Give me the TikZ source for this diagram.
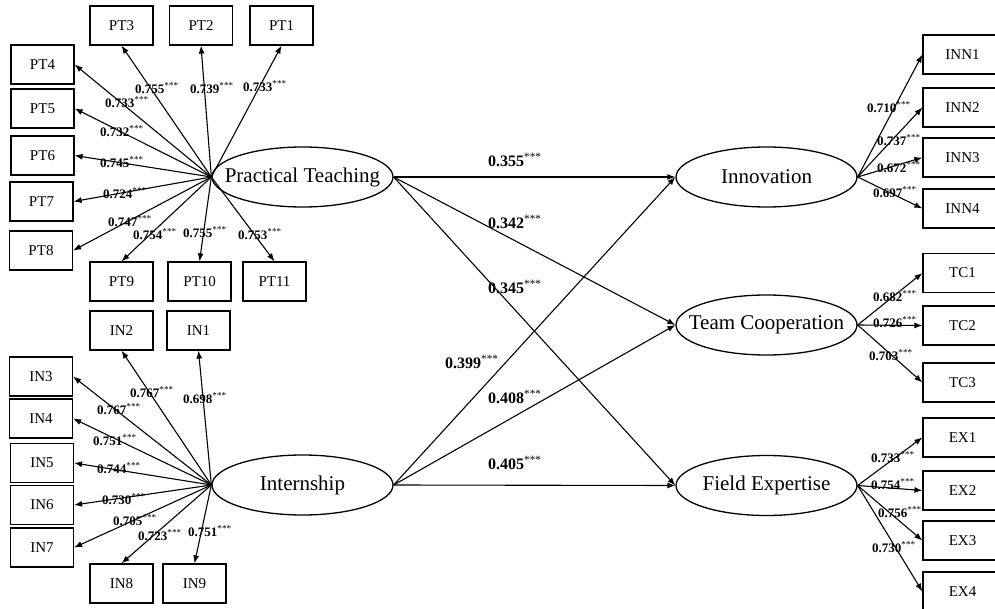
\documentclass[tikz,border=0pt]{standalone}
\usepackage{fontspec}
\setmainfont{Liberation Serif}
\usetikzlibrary{shapes.geometric,arrows.meta}
\newcommand{\lv}[1]{\textbf{#1}\textsuperscript{\mdseries***}}
\newcommand{\zw}[1]{\makebox[0pt]{#1}}
\begin{document}
\begin{tikzpicture}[x=1pt,y=-1pt,
 box/.style={draw, line width=1.2pt, minimum width=63pt, minimum height=39pt, inner sep=0pt, font=\fontsize{15}{15}\selectfont},
 rbox/.style={box, minimum width=79pt},
 lat/.style={ellipse, draw, line width=1.3pt, minimum width=181pt, minimum height=60pt, inner sep=0pt, font=\fontsize{21}{21}\selectfont},
 arr/.style={-{Latex[length=8pt,width=6pt]}, line width=1.1pt},
 lab/.style={anchor=west, inner sep=0pt, font=\fontsize{13}{13}\selectfont},
 plab/.style={anchor=west, inner sep=0pt, font=\fontsize{16}{16}\selectfont}]
\clip (0,0) rectangle (995,609);
\fill[white] (0,0) rectangle (995,609);
% latent variables
\node[lat] (pt) at (302.5,177) {\zw{Practical Teaching}};
\node[lat] (in) at (302.5,485) {\zw{Internship}};
\node[lat] (inn) at (766.5,177) {\zw{Innovation}};
\node[lat] (tc) at (766.5,325) {\zw{Team Cooperation}};
\node[lat] (fe) at (766.5,485.5) {\zw{Field Expertise}};
% PT boxes
\node[box] (pt3) at (121.5,25.5) {PT3};
\node[box] (pt2) at (201,25.5) {PT2};
\node[box] (pt1) at (281.5,25.5) {PT1};
\node[box] (pt4) at (42.5,64.5) {PT4};
\node[box] (pt5) at (42.5,108.5) {PT5};
\node[box] (pt6) at (42.5,155.5) {PT6};
\node[box] (pt7) at (41.5,201.5) {PT7};
\node[box] (pt8) at (41,250.5) {PT8};
\node[box] (pt9) at (121.5,281.5) {PT9};
\node[box] (pt10) at (199.5,281.5) {PT10};
\node[box] (pt11) at (274.5,281.5) {PT11};
% IN boxes
\node[box] (in2) at (121.5,330.5) {IN2};
\node[box] (in1) at (198.5,330.5) {IN1};
\node[box] (in3) at (41,376.5) {IN3};
\node[box] (in4) at (41,418.5) {IN4};
\node[box] (in5) at (42,463) {IN5};
\node[box] (in6) at (42,505) {IN6};
\node[box] (in7) at (42,547.5) {IN7};
\node[box] (in8) at (121.5,583.5) {IN8};
\node[box] (in9) at (194.5,583.5) {IN9};
% right boxes
\node[rbox] (inn1) at (962.5,54.5) {INN1};
\node[rbox] (inn2) at (962.5,107.5) {INN2};
\node[rbox] (inn3) at (962.5,157.5) {INN3};
\node[rbox] (inn4) at (962.5,208.5) {INN4};
\node[rbox] (tc1) at (962.5,273) {TC1};
\node[rbox] (tc2) at (962.5,325.5) {TC2};
\node[rbox] (tc3) at (962.5,382.5) {TC3};
\node[rbox] (ex1) at (962.5,437.5) {EX1};
\node[rbox] (ex2) at (962.5,490.5) {EX2};
\node[rbox] (ex3) at (962.5,540.5) {EX3};
\node[rbox] (ex4) at (962.5,591.5) {EX4};
% PT arrows
\foreach \b in {pt3,pt2,pt1} \draw[arr] (pt.west) -- (\b.south);
\foreach \b in {pt4,pt5,pt6,pt7,pt8} \draw[arr] (pt.west) -- (\b.east);
\foreach \b in {pt9,pt10,pt11} \draw[arr] (pt.west) -- (\b.north);
% IN arrows
\foreach \b in {in2,in1} \draw[arr] (in.west) -- (\b.south);
\foreach \b in {in3,in4,in5,in6,in7} \draw[arr] (in.west) -- (\b.east);
\foreach \b in {in8,in9} \draw[arr] (in.west) -- (\b.north);
% right arrows
\foreach \b in {inn1,inn2,inn3,inn4} \draw[arr] (inn.east) -- (\b.west);
\foreach \b in {tc1,tc2,tc3} \draw[arr] (tc.east) -- (\b.west);
\foreach \b in {ex1,ex2,ex3,ex4} \draw[arr] (fe.east) -- (\b.west);
% structural paths
\draw[arr] (pt.east) -- (inn.west);
\draw[arr] (pt.east) -- (tc.west);
\draw[arr] (pt.east) -- (fe.west);
\draw[arr] (in.east) -- (inn.west);
\draw[arr] (in.east) -- (tc.west);
\draw[arr] (in.east) -- (fe.west);
% PT loadings
\node[lab] (l1) at (135,88) {\lv{0.755}};
\node[lab] (l2) at (190,88) {\lv{0.739}};
\node[lab] (l3) at (243,86) {\lv{0.733}};
\node[lab] (l4) at (105,102) {\lv{0.733}};
\node[lab] (l5) at (100,131) {\lv{0.732}};
\node[lab] (l6) at (100,162) {\lv{0.745}};
\node[lab] (l7) at (103,193) {\lv{0.724}};
\node[lab] (l8) at (108,221) {\lv{0.747}};
\node[lab] (l9) at (133,234) {\lv{0.754}};
\node[lab] (l10) at (183,232) {\lv{0.755}};
\node[lab] (l11) at (238,234) {\lv{0.753}};
% IN loadings
\node[lab] (m1) at (130,392) {\lv{0.767}};
\node[lab] (m2) at (183,398) {\lv{0.698}};
\node[lab] (m3) at (97,409) {\lv{0.767}};
\node[lab] (m4) at (93,440) {\lv{0.751}};
\node[lab] (m5) at (97,468) {\lv{0.744}};
\node[lab] (m6) at (102,499) {\lv{0.730}};
\node[lab] (m7) at (113,520) {\lv{0.705}};
\node[lab] (m8) at (138,535) {\lv{0.723}};
\node[lab] (m9) at (188,531) {\lv{0.751}};
% right loadings
\node[lab] (r1) at (867,107) {\lv{0.710}};
\node[lab] (r2) at (877,140) {\lv{0.737}};
\node[lab] (r3) at (877,167) {\lv{0.672}};
\node[lab] (r4) at (873,192) {\lv{0.697}};
\node[lab] (r5) at (873,296) {\lv{0.682}};
\node[lab] (r6) at (873,322) {\lv{0.726}};
\node[lab] (r7) at (869,355) {\lv{0.703}};
\node[lab] (r8) at (871,457) {\lv{0.733}};
\node[lab] (r9) at (871,484) {\lv{0.754}};
\node[lab] (r10) at (878,512) {\lv{0.756}};
\node[lab] (r11) at (872,547) {\lv{0.730}};
% path coefficients
\node[plab] (p1) at (488,160) {\lv{0.355}};
\node[plab] (p2) at (488,222) {\lv{0.342}};
\node[plab] (p3) at (488,287) {\lv{0.345}};
\node[plab] (p4) at (445,362) {\lv{0.399}};
\node[plab] (p5) at (488,397) {\lv{0.408}};
\node[plab] (p6) at (488,463) {\lv{0.405}};
\end{tikzpicture}
\end{document}
